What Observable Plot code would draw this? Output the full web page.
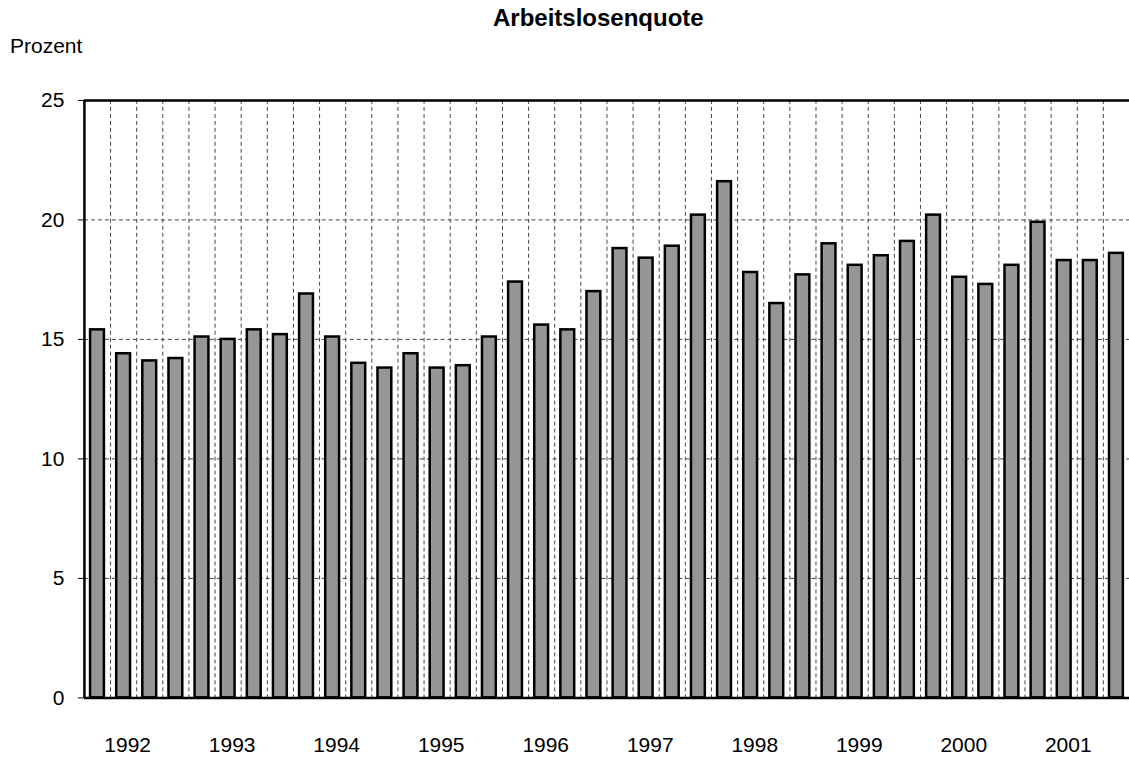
<!DOCTYPE html>
<html><head><meta charset="utf-8">
<script src="https://cdn.jsdelivr.net/npm/d3@7"></script>
<script src="https://cdn.jsdelivr.net/npm/@observablehq/plot@0.6"></script>
<style>
html,body{margin:0;padding:0;background:#fff;overflow:hidden}
#wrap{position:relative;width:1129px;height:758px;font-family:"Liberation Sans",Arial,sans-serif;overflow:hidden}
.t{position:absolute;white-space:nowrap;line-height:1;color:#000}
#chart{position:absolute;left:0;top:0}
</style></head><body>
<div id="wrap">
<div id="chart"></div>
<div class="t" style="left:493px;top:5.7px;font-size:24px;font-weight:bold">Arbeitslosenquote</div>
<div class="t" style="left:10px;top:35px;font-size:21px">Prozent</div>
</div>
<script>
const years = [1992, 1993, 1994, 1995, 1996, 1997, 1998, 1999, 2000, 2001];
const quarters = [1, 2, 3, 4];
const values = [
  15.4, 14.4, 14.1, 14.2,
  15.1, 15.0, 15.4, 15.2,
  16.9, 15.1, 14.0, 13.8,
  14.4, 13.8, 13.9, 15.1,
  17.4, 15.6, 15.4, 17.0,
  18.8, 18.4, 18.9, 20.2,
  21.6, 17.8, 16.5, 17.7,
  19.0, 18.1, 18.5, 19.1,
  20.2, 17.6, 17.3, 18.1,
  19.9, 18.3, 18.3, 18.6
];
const yTicks = [0, 5, 10, 15, 20, 25];
const yGrid = [5, 10, 15, 20];

const data = [];
years.forEach((yr, i) => quarters.forEach((q, j) => {
  data.push({key: yr + "-Q" + q, year: yr, q, value: values[i * 4 + j]});
}));
const keys = data.map(d => d.key);
const labelKeys = data.filter(d => d.q === 3).map(d => d.key);
const yearOf = Object.fromEntries(data.map(d => [d.key, String(d.year)]));

const W = 1130, H = 758, mL = 84, mR = 0, mT = 100, mB = 60;
const step = (W - mL - mR) / keys.length;
const grid = {stroke: "#444", strokeOpacity: 1, strokeWidth: 1, strokeDasharray: "4,3"};

const chart = Plot.plot({
  width: W, height: H,
  marginLeft: mL, marginRight: mR, marginTop: mT, marginBottom: mB,
  style: {fontFamily: '"Liberation Sans", Arial, sans-serif', fontSize: "21px", color: "#000", background: "transparent", overflow: "visible"},
  x: {domain: keys, paddingInner: 0.47, paddingOuter: 0.235, round: false},
  y: {domain: [0, 25]},
  marks: [
    Plot.ruleY(yGrid, grid),
    Plot.ruleX(keys.slice(1), {...grid, dx: -step / 2}),
    Plot.barY(data, {x: "key", y: "value", fill: "#969696", stroke: "#000", strokeWidth: 2.5}),
    Plot.ruleY([25], {stroke: "#000", strokeWidth: 2.5}),
    Plot.ruleX([keys[0]], {stroke: "#000", strokeWidth: 2.5, dx: -step / 2}),
    Plot.axisY({ticks: yTicks, tickSize: 6, tickPadding: 14, label: null, tickFormat: d => String(d)}),
    Plot.ruleY([0], {stroke: "#000", strokeWidth: 2.5}),
    Plot.axisX({ticks: labelKeys, tickFormat: k => yearOf[k], tickSize: 0, tickPadding: 39, dx: -step / 2 - 9, label: null})
  ]
});
document.getElementById("chart").appendChild(chart);
</script>
</body></html>
